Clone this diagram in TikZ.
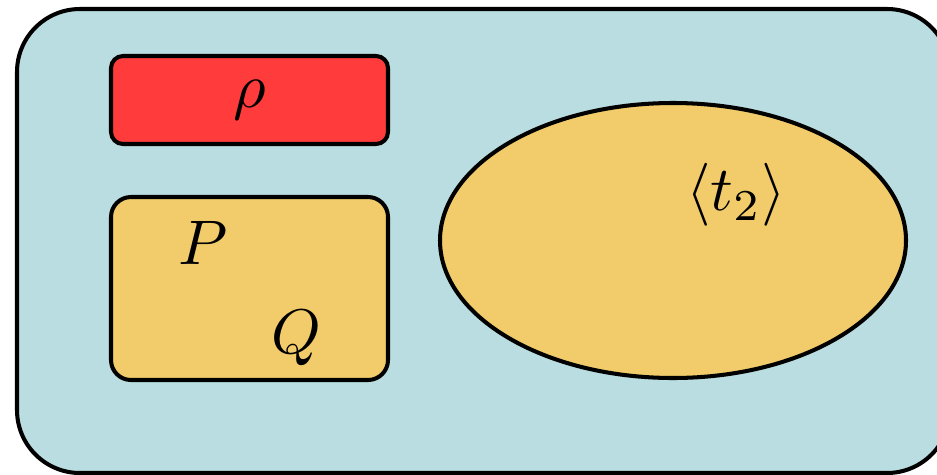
\documentclass[tikz,border=0pt]{standalone}
\usetikzlibrary{shapes.geometric}
\newcommand{\pxu}{0.15873pt}
\definecolor{bgteal}{RGB}{185,221,224}
\definecolor{boxred}{RGB}{255,59,59}
\definecolor{boxyellow}{RGB}{242,204,106}
\tikzset{
  outline/.style={draw=black, line width=0.64pt, inner sep=0pt},
  roundbox/.style={outline, rectangle},
  lbl/.style={inner sep=0pt, font=\normalsize}
}
\begin{document}
\begin{tikzpicture}[x=\pxu, y=-\pxu]
\useasboundingbox (0,0) rectangle (937,474);
\node[roundbox, fill=bgteal, rounded corners={63*\pxu},
      minimum width={933*\pxu}, minimum height={464*\pxu}] (outer) at (483.5,241) {};
\node[roundbox, fill=boxred, rounded corners={12*\pxu},
      minimum width={277*\pxu}, minimum height={88*\pxu}] (rho) at (249.5,100) {$\rho$};
\node[roundbox, fill=boxyellow, rounded corners={20*\pxu},
      minimum width={277*\pxu}, minimum height={183*\pxu}] (pq) at (249.5,288.5) {};
\node[lbl, anchor=base] (P) at (203,264) {$P$};
\node[lbl, anchor=base] (Q) at (296,353) {$Q$};
\node[outline, ellipse, fill=boxyellow,
      minimum width={466*\pxu}, minimum height={275*\pxu}] (ell) at (673,240.5) {};
\node[lbl] (t2) at (736,195) {$\langle t_2\rangle$};
\end{tikzpicture}
\end{document}
